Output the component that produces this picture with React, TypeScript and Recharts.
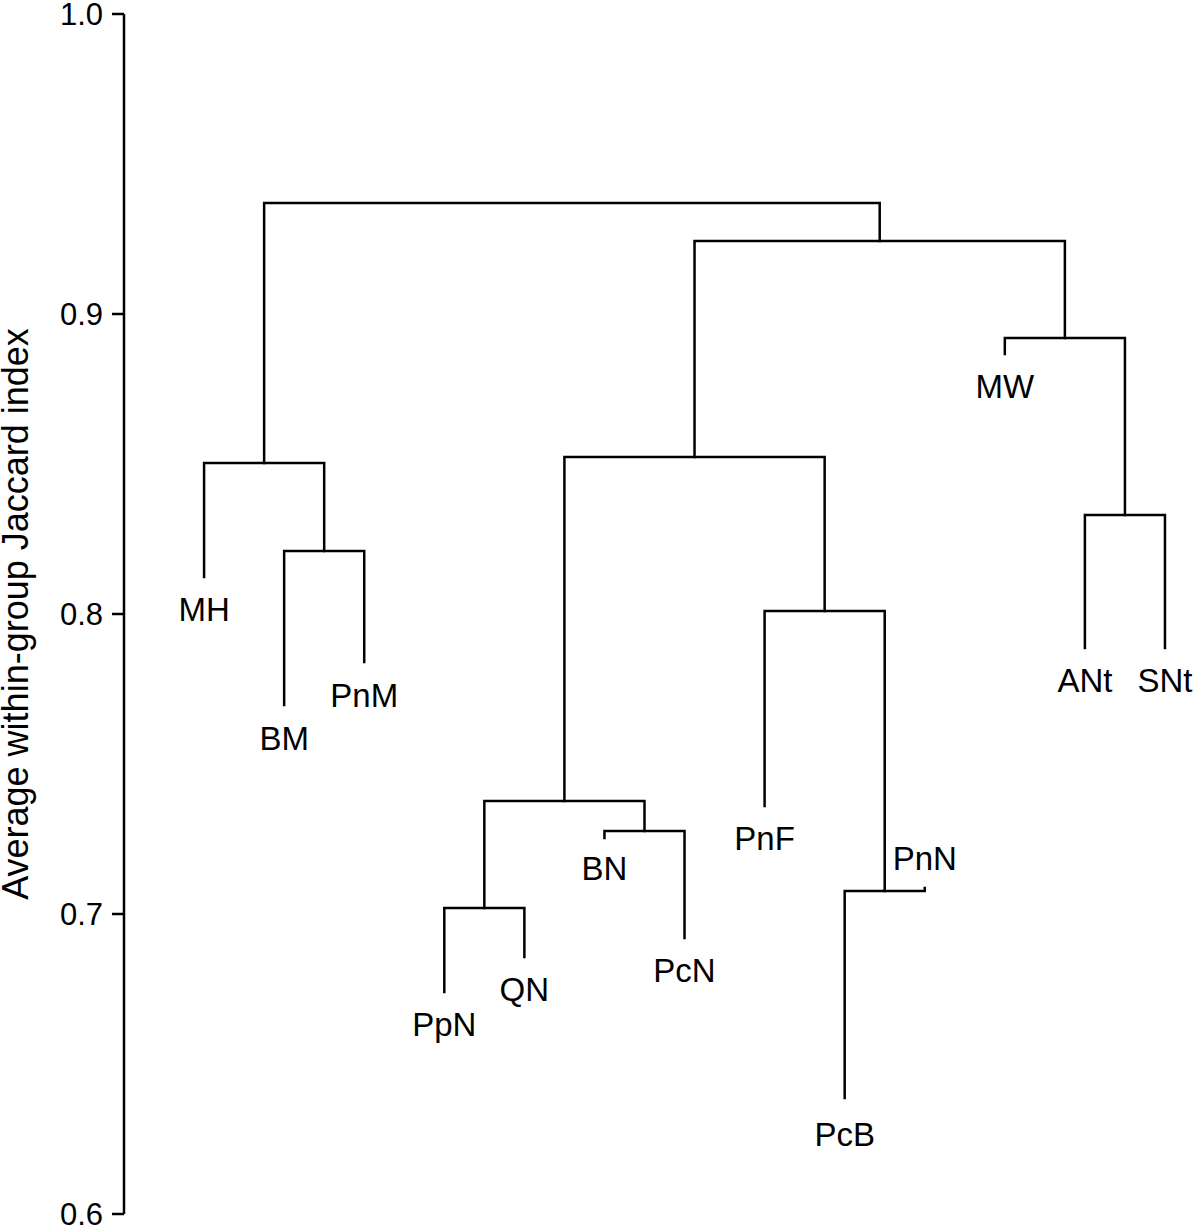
import { ComposedChart, Line, Scatter, XAxis, YAxis } from 'recharts'

// leaves in plotting order (left to right)
const leafNames = ['MH', 'BM', 'PnM', 'PpN', 'QN', 'BN', 'PcN', 'PnF', 'PcB', 'PnN', 'MW', 'ANt', 'SNt']
const leafEnds = [0.8123, 0.7697, 0.784, 0.674, 0.6857, 0.7253, 0.692, 0.736, 0.6387, 0.7087, 0.8867, 0.7887, 0.7887]
const labelHeights = [0.8017, 0.7587, 0.773, 0.6633, 0.675, 0.7153, 0.6813, 0.7253, 0.6267, 0.7187, 0.876, 0.778, 0.778]

// hclust-style merges: negative = leaf (1-based), positive = earlier merge
const mergeLeft = [-4, -6, 1, -9, -8, 3, -12, -11, 6, -2, -1, 11]
const mergeRight = [-5, -7, 2, -10, 4, 5, -13, 7, 8, -3, 10, 9]
const mergeHeight = [0.702, 0.7277, 0.7377, 0.7077, 0.801, 0.8523, 0.833, 0.892, 0.9243, 0.821, 0.8503, 0.937]

const yTicks = [0.6, 0.7, 0.8, 0.9, 1.0]

const FONT = '"Liberation Sans", Arial, sans-serif'

type Pt = { x: number; y: number }

function buildSegments() {
  const mx: number[] = []
  const segs: Pt[][] = []
  const nodeX = (id: number) => (id < 0 ? -id : mx[id - 1])
  const nodeH = (id: number) => (id < 0 ? leafEnds[-id - 1] : mergeHeight[id - 1])
  mergeHeight.forEach((h, i) => {
    const l = mergeLeft[i]
    const r = mergeRight[i]
    const xl = nodeX(l)
    const xr = nodeX(r)
    mx.push((xl + xr) / 2)
    segs.push([
      { x: xl, y: nodeH(l) },
      { x: xl, y: h },
      { x: xr, y: h },
      { x: xr, y: nodeH(r) },
    ])
  })
  return segs
}

const segments = buildSegments()
const labels = leafNames.map((name, i) => ({ x: i + 1, y: labelHeights[i], name }))

function LeafLabel(props: any) {
  const { cx, cy, payload } = props
  return (
    <text x={cx} y={cy} dy="0.36em" textAnchor="middle" fontFamily={FONT} fontSize={33} fill="#000">
      {payload.name}
    </text>
  )
}

export default function App() {
  return (
    <div style={{ position: 'absolute', left: 0, top: 0, width: 1200, height: 1230, background: '#fff' }}>
      <ComposedChart width={1200} height={1230} margin={{ top: 14, right: 3, bottom: 16, left: 0 }}>
        <XAxis type="number" dataKey="x" domain={[0, 13.4]} hide allowDuplicatedCategory={false} />
        <YAxis
          type="number"
          dataKey="y"
          domain={[0.6, 1.0]}
          ticks={yTicks}
          interval={0}
          width={124}
          tickSize={12}
          tickMargin={9}
          tickFormatter={(v: number) => v.toFixed(1)}
          axisLine={{ stroke: '#000', strokeWidth: 2.5 }}
          tickLine={{ stroke: '#000', strokeWidth: 2.5 }}
          tick={{ fill: '#000', fontSize: 31, fontFamily: FONT }}
          label={{
            value: 'Average within-group Jaccard index',
            angle: -90,
            position: 'insideLeft',
            offset: 0,
            dx: 15,
            style: { fill: '#000', fontSize: 36, fontFamily: FONT, textAnchor: 'middle' },
          }}
        />
        {segments.map((seg, i) => (
          <Line
            key={i}
            data={seg}
            dataKey="y"
            type="linear"
            stroke="#000"
            strokeWidth={2.5}
            dot={false}
            activeDot={false}
            isAnimationActive={false}
            strokeLinecap="square"
          />
        ))}
        <Scatter data={labels} dataKey="y" shape={<LeafLabel />} isAnimationActive={false} />
      </ComposedChart>
    </div>
  )
}
